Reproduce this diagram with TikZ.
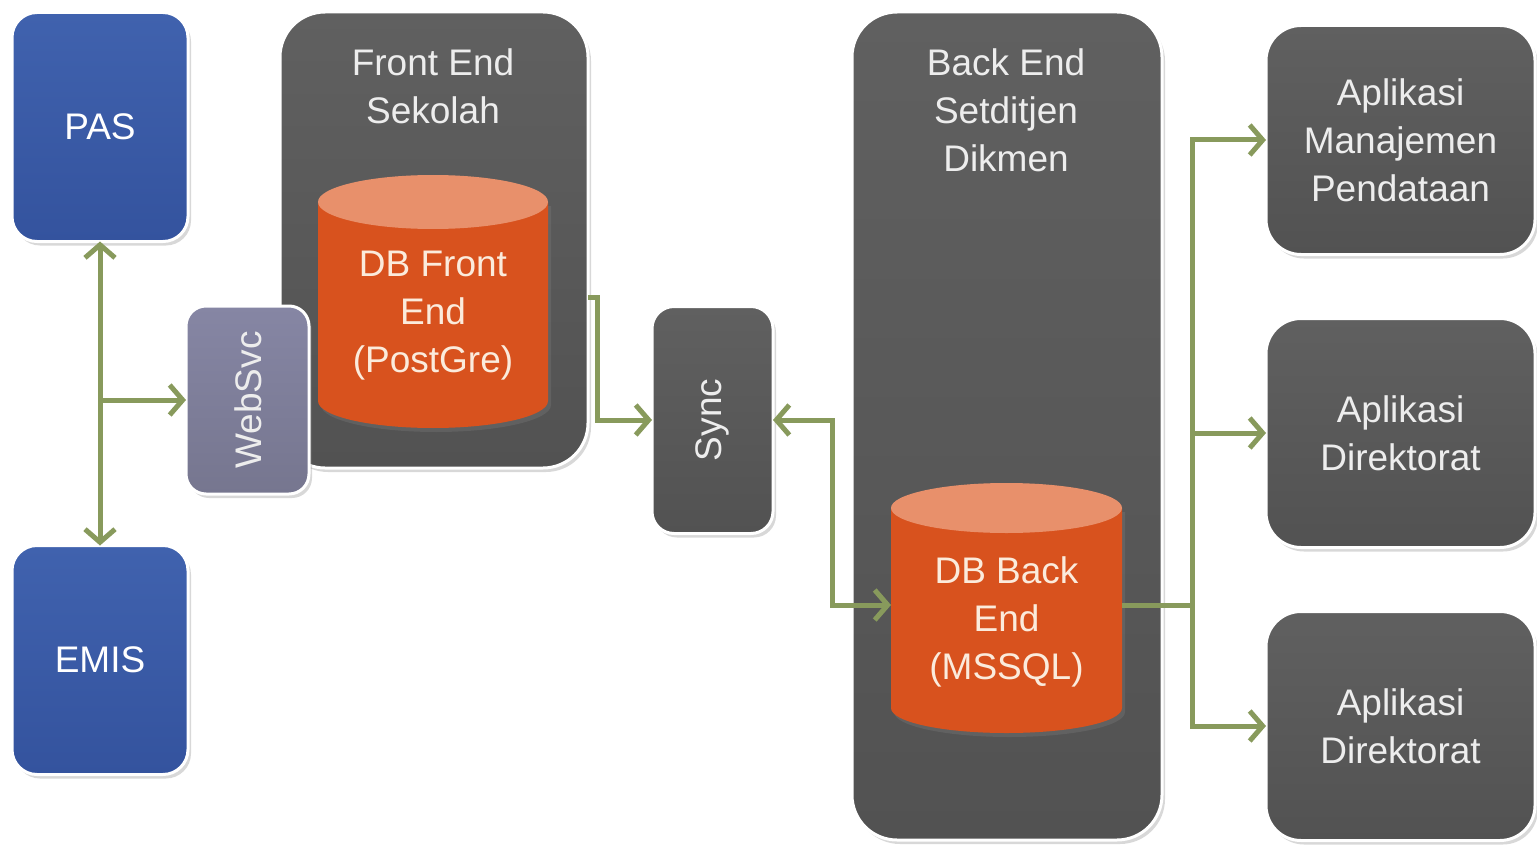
\documentclass[tikz,border=0pt]{standalone}
\usepackage{fontspec}
\setmainfont{Liberation Sans}
\usetikzlibrary{arrows.meta,shadows,calc}
\definecolor{arrowc}{HTML}{889A5C}
\definecolor{blueA}{HTML}{4062AE}
\definecolor{blueB}{HTML}{34539E}
\definecolor{greyA}{HTML}{606060}
\definecolor{greyB}{HTML}{525252}
\definecolor{lavA}{HTML}{8686A4}
\definecolor{lavB}{HTML}{76768F}
\definecolor{orangeA}{HTML}{D8521E}
\definecolor{orangeTop}{HTML}{E8906B}
\definecolor{txtlight}{HTML}{EDEDED}
\definecolor{txtcream}{HTML}{FBEBDC}
\begin{document}
\begin{tikzpicture}[x=1pt,y=-1pt,
  box/.style={draw=white, line width=3pt, inner sep=0pt, outer sep=0pt, align=center,
    text=white, font=\fontsize{37}{48}\selectfont,
    drop shadow={opacity=0.3, shadow xshift=3pt, shadow yshift=-4pt}},
  bluebox/.style={box, top color=blueA, bottom color=blueB, rounded corners=25pt,
    minimum width=176pt, minimum height=229pt},
  darkbox/.style={box, top color=greyA, bottom color=greyB},
  container/.style={darkbox, rounded corners=45pt},
  appbox/.style={darkbox, rounded corners=35pt, minimum width=269pt, minimum height=229pt, text=txtlight},
  title/.style={align=center, text=txtlight, font=\fontsize{37}{48}\selectfont, inner sep=0pt},
  dbtext/.style={align=center, text=txtcream, font=\fontsize{37}{48}\selectfont, inner sep=0pt},
  cylbody/.style={fill=orangeA, drop shadow={opacity=0.3, shadow xshift=3pt, shadow yshift=-4pt}},
  cyltop/.style={fill=orangeTop},
  helper/.style={inner sep=0pt, outer sep=0pt},
  arr/.style={draw=arrowc, line width=5pt, arrows={-Straight Barb[length=13pt, width=30pt]}},
  link/.style={draw=arrowc, line width=5pt},
]
\useasboundingbox (0,0) rectangle (1537,848);
\fill[white] (0,0) rectangle (1537,848);

% containers
\node[container, minimum width=308pt, minimum height=456pt] (fe) at (434,240) {};
\node[title] (fetitle) at (433,86) {Front End\\Sekolah};
\node[container, minimum width=310pt, minimum height=828pt] (be) at (1007,426) {};
\node[title] (betitle) at (1006,110) {Back End\\Setditjen\\Dikmen};

% DB front end cylinder
\path[cylbody] (318,202) -- (318,401) .. controls (318,416) and (369.5,428) .. (433,428)
  .. controls (496.5,428) and (548,416) .. (548,401) -- (548,202) -- cycle;
\fill[cyltop] (433,202) ellipse [x radius=115, y radius=27];
\node[dbtext] (dbf) at (433,316) {DB Front\\End\\(PostGre)};

% DB back end cylinder
\path[cylbody] (891,508) -- (891,708) .. controls (891,722) and (942.7,733) .. (1006.5,733)
  .. controls (1070.3,733) and (1122,722) .. (1122,708) -- (1122,508) -- cycle;
\fill[cyltop] (1006.5,508) ellipse [x radius=115.5, y radius=25];
\node[helper, minimum width=231pt, minimum height=250pt] (dbb) at (1006.5,605) {};
\node[dbtext] (dbbtext) at (1006.5,622) {DB Back\\End\\(MSSQL)};

% left boxes
\node[bluebox] (pas) at (100,127) {PAS};
\node[bluebox] (emis) at (100,660) {EMIS};
\node[box, top color=lavA, bottom color=lavB, rounded corners=20pt,
  minimum width=123pt, minimum height=188pt] (ws) at (247.5,400) {};
\node[text=txtlight, font=\fontsize{37}{48}\selectfont, rotate=90, inner sep=0pt] (wstext) at (248,400) {WebSvc};
\node[darkbox, rounded corners=22pt, minimum width=121pt, minimum height=227pt] (sync) at (712.5,420) {};
\node[text=txtlight, font=\fontsize{37}{48}\selectfont, rotate=90, inner sep=0pt] (synctext) at (712,420) {Sync};

% application boxes
\node[appbox] (app1) at (1400.5,140) {Aplikasi\\Manajemen\\Pendataan};
\node[appbox] (app2) at (1400.5,433) {Aplikasi\\Direktorat};
\node[appbox] (app3) at (1400.5,726) {Aplikasi\\Direktorat};

% connectors
\coordinate (mid) at (100,400);
\coordinate (feout) at (588,297);
\coordinate (j) at (1192,605);
\draw[arr, arrows={Straight Barb[length=13pt, width=30pt]-Straight Barb[length=13pt, width=30pt]}] (pas.south) -- (emis.north);
\draw[arr] (mid) -- (ws.west);
\draw[arr] (feout) -- ++(9,0) |- (sync.west);
\draw[arr, arrows={Straight Barb[length=13pt, width=30pt]-Straight Barb[length=13pt, width=30pt]}] (sync.east) -- ++(59,0) |- (dbb.west);
\draw[link] (dbb.east) -- (j);
\draw[arr] (j) |- (app1.west);
\draw[arr] (j) |- (app2.west);
\draw[arr] (j) |- (app3.west);
\end{tikzpicture}
\end{document}
